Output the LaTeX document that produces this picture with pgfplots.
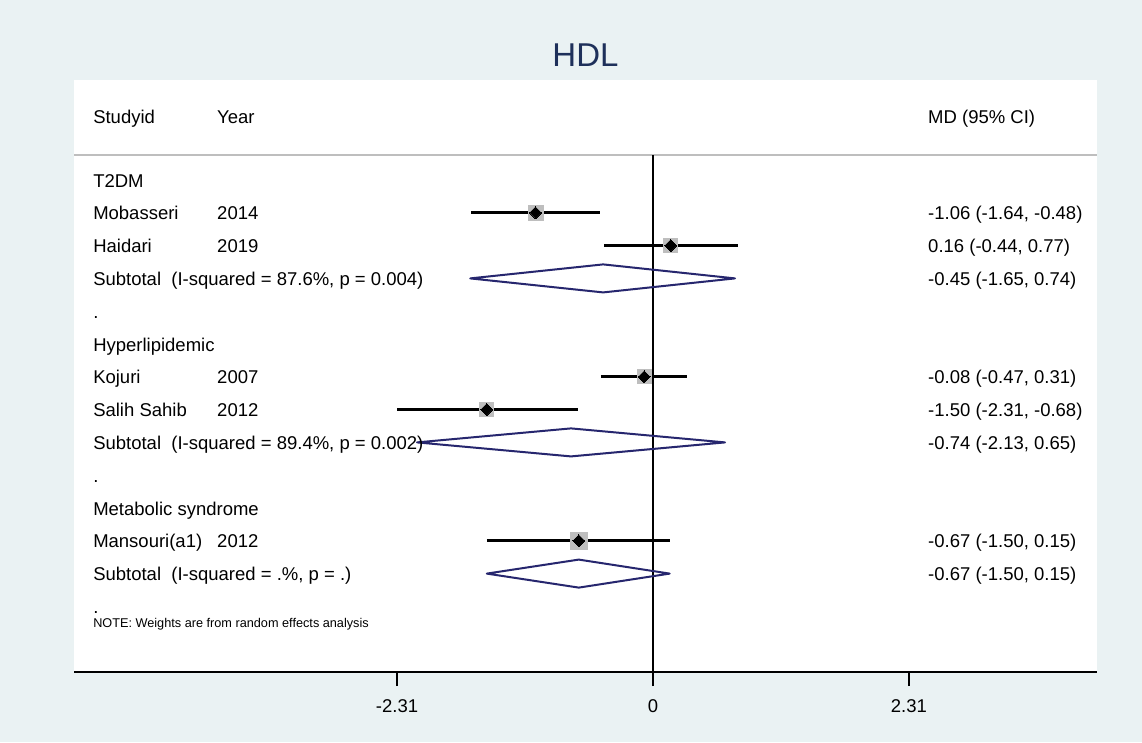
\documentclass[border=0pt]{standalone}
\usepackage{pgfplots}
\pgfplotsset{compat=1.18}
\usepackage{fontspec}
\setmainfont{Liberation Sans}
\definecolor{bg}{RGB}{234,242,243}
\definecolor{navy}{RGB}{38,38,110}
\definecolor{ttl}{RGB}{30,48,90}
\definecolor{boxg}{RGB}{190,190,190}
\definecolor{hdr}{RGB}{190,190,190}
\newcommand\tf{\fontsize{18.5}{22}\selectfont}
\newcommand\lt[3]{\node[anchor=base west, inner sep=0pt, font=\tf, yshift=-7pt] at (axis cs:#1,#2) {#3};}
\begin{document}
\begin{tikzpicture}
\fill[bg] (0,0) rectangle (1142pt,742pt);
\begin{axis}[
  at={(74pt,70pt)}, anchor=south west,
  scale only axis, width=1023pt, height=592pt,
  xmin=-5.226, xmax=4.007, ymin=-16.0, ymax=2.049,
  axis background/.style={fill=white},
  axis x line=bottom, axis y line=none, ytick=\empty,
  axis line style={line width=2.5pt,-},
  xtick={-2.31,0,2.31}, xticklabels={-2.31,0,2.31},
  tick align=outside, major tick length=14pt,
  tick style={line width=2pt,black},
  xticklabel style={font=\tf, text=black, yshift=-10pt},
  clip=false,
  title={HDL},
  title style={font=\fontsize{33}{36}\selectfont, text=ttl, at={(0.5,1)}, anchor=base, yshift=7.5pt},
]
% header rule and zero line
\addplot[hdr, line width=1.5pt] coordinates {(-5.226,-0.238) (4.007,-0.238)};
\addplot[black, line width=2pt] coordinates {(0,-0.238) (0,-16)};
% weight boxes
\addplot[boxg, only marks, mark=square*, mark size=7.5pt, mark options={fill=boxg, draw=boxg, line width=0pt}] coordinates {(-1.06,-2)};
\addplot[boxg, only marks, mark=square*, mark size=7pt, mark options={fill=boxg, draw=boxg, line width=0pt}] coordinates {(0.16,-3)};
\addplot[boxg, only marks, mark=square*, mark size=7pt, mark options={fill=boxg, draw=boxg, line width=0pt}] coordinates {(-0.08,-7)};
\addplot[boxg, only marks, mark=square*, mark size=7pt, mark options={fill=boxg, draw=boxg, line width=0pt}] coordinates {(-1.50,-8)};
\addplot[boxg, only marks, mark=square*, mark size=8.5pt, mark options={fill=boxg, draw=boxg, line width=0pt}] coordinates {(-0.67,-12)};
% CIs
\addplot[black, line width=2.7pt] coordinates {(-1.64,-2) (-0.48,-2)};
\addplot[black, line width=2.7pt] coordinates {(-0.44,-3) (0.77,-3)};
\addplot[black, line width=2.7pt] coordinates {(-0.47,-7) (0.31,-7)};
\addplot[black, line width=2.7pt] coordinates {(-2.31,-8) (-0.68,-8)};
\addplot[black, line width=2.7pt] coordinates {(-1.50,-12) (0.15,-12)};
% point estimates
\addplot[black, only marks, mark=square*, mark size=4.2pt, mark options={fill=black, draw=black, line width=0pt, rotate=45}] coordinates {(-1.06,-2) (0.16,-3) (-0.08,-7) (-1.50,-8) (-0.67,-12)};
% subtotal diamonds
\addplot[navy, line width=2pt, line join=round] coordinates {(-1.65,-4) (-0.45,-3.573) (0.74,-4) (-0.45,-4.427)} -- cycle;
\addplot[navy, line width=2pt, line join=round] coordinates {(-2.13,-9) (-0.74,-8.573) (0.65,-9) (-0.74,-9.427)} -- cycle;
\addplot[navy, line width=2pt, line join=round] coordinates {(-1.50,-13) (-0.67,-12.573) (0.15,-13) (-0.67,-13.427)} -- cycle;
% text
\lt{-5.054}{0.951}{Studyid}
\lt{-3.935}{0.951}{Year}
\lt{2.482}{0.951}{MD (95\% CI)}
\lt{-5.054}{-1}{T2DM}
\lt{-5.054}{-2}{Mobasseri}
\lt{-3.935}{-2}{2014}
\lt{2.482}{-2}{-1.06 (-1.64, -0.48)}
\lt{-5.054}{-3}{Haidari}
\lt{-3.935}{-3}{2019}
\lt{2.482}{-3}{0.16 (-0.44, 0.77)}
\lt{-5.054}{-4}{Subtotal\ \ (I-squared = 87.6\%, p = 0.004)}
\lt{2.482}{-4}{-0.45 (-1.65, 0.74)}
\lt{-5.054}{-5}{.}
\lt{-5.054}{-6}{Hyperlipidemic}
\lt{-5.054}{-7}{Kojuri}
\lt{-3.935}{-7}{2007}
\lt{2.482}{-7}{-0.08 (-0.47, 0.31)}
\lt{-5.054}{-8}{Salih Sahib}
\lt{-3.935}{-8}{2012}
\lt{2.482}{-8}{-1.50 (-2.31, -0.68)}
\lt{-5.054}{-9}{Subtotal\ \ (I-squared = 89.4\%, p = 0.002)}
\lt{2.482}{-9}{-0.74 (-2.13, 0.65)}
\lt{-5.054}{-10}{.}
\lt{-5.054}{-11}{Metabolic syndrome}
\lt{-5.054}{-12}{Mansouri(a1)}
\lt{-3.935}{-12}{2012}
\lt{2.482}{-12}{-0.67 (-1.50, 0.15)}
\lt{-5.054}{-13}{Subtotal\ \ (I-squared = .\%, p = .)}
\lt{2.482}{-13}{-0.67 (-1.50, 0.15)}
\lt{-5.054}{-14}{.}
\node[anchor=base west, inner sep=0pt, font=\fontsize{12.7}{15}\selectfont] at (axis cs:-5.054,-14.65) {NOTE: Weights are from random effects analysis};
\end{axis}
\pgfresetboundingbox
\useasboundingbox (0,0) rectangle (1142pt,742pt);
\end{tikzpicture}
\end{document}
